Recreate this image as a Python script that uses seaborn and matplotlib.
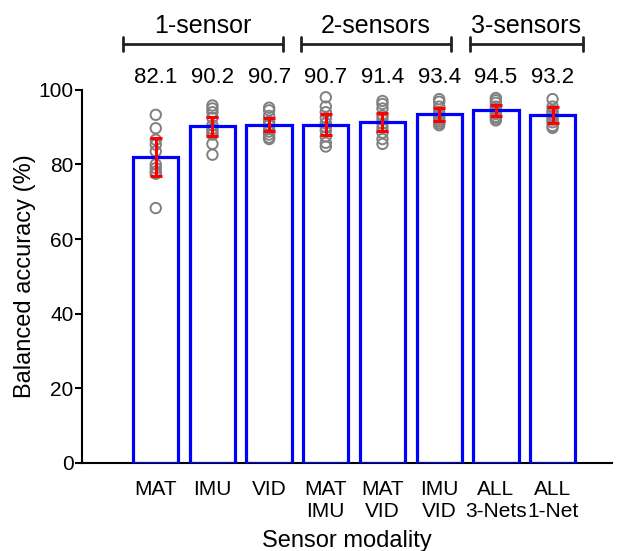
"""Balanced accuracy per sensor modality: bars, per-subject points and error bars."""

import matplotlib

matplotlib.use("Agg")
import matplotlib.pyplot as plt
import numpy as np
import pandas as pd
import seaborn as sns

modalities = ["MAT", "IMU", "VID", "MAT\nIMU", "MAT\nVID", "IMU\nVID", "ALL\n3-Nets", "ALL\n1-Net"]
mean_accuracy = [82.1, 90.2, 90.7, 90.7, 91.4, 93.4, 94.5, 93.2]
error_halfwidth = [5.1, 2.5, 1.8, 2.7, 2.5, 1.7, 1.5, 2.1]
subject_accuracy = [
    [93.3, 89.7, 86.6, 85.3, 83.5, 80.0, 79.0, 78.1, 77.5, 68.3],
    [95.8, 95.0, 94.0, 92.5, 90.5, 89.5, 88.8, 88.0, 85.5, 82.6],
    [95.2, 94.5, 93.0, 91.5, 90.5, 89.5, 88.8, 88.0, 87.2, 86.8],
    [98.0, 95.5, 94.0, 92.5, 91.0, 90.0, 89.0, 87.5, 85.8, 84.8],
    [97.0, 96.2, 95.0, 93.0, 92.0, 91.0, 89.8, 88.5, 86.8, 85.5],
    [97.5, 96.8, 95.5, 94.0, 93.0, 92.5, 92.0, 91.5, 91.0, 90.5],
    [97.8, 97.2, 96.5, 95.5, 94.8, 94.0, 93.5, 92.8, 92.3, 91.8],
    [97.5, 95.5, 94.5, 93.8, 93.2, 92.5, 92.0, 91.3, 90.3, 89.8],
]
group_names = ["1-sensor", "2-sensors", "3-sensors"]
group_spans = [(-0.58, 2.24), (2.56, 5.20), (5.55, 7.53)]

sns.set_style("white")
plt.rcParams["font.family"] = ["Liberation Sans", "DejaVu Sans"]
plt.rcParams.update({
    "text.color": "black", "axes.labelcolor": "black",
    "xtick.color": "black", "ytick.color": "black",
})

bars = pd.DataFrame({"modality": modalities, "accuracy": mean_accuracy})
points = pd.DataFrame(
    [(m, v) for m, vals in zip(modalities, subject_accuracy) for v in vals],
    columns=["modality", "accuracy"],
)

fig = plt.figure(figsize=(6.17, 5.51), dpi=100)
ax = fig.add_axes([0.133, 0.16, 0.859, 0.677])

sns.barplot(
    data=bars, x="modality", y="accuracy", order=modalities, errorbar=None,
    fill=False, color="#0000ff", linewidth=2.3, width=0.8, ax=ax,
)
for patch in ax.patches:
    patch.set_zorder(3.5)

sns.stripplot(
    data=points, x="modality", y="accuracy", order=modalities, jitter=False,
    color="#808080", size=7.5, linewidth=1.4, edgecolor="#808080", ax=ax, zorder=3,
)
for coll in ax.collections:
    coll.set_facecolor("none")

positions = np.arange(len(modalities))
ax.errorbar(
    positions, mean_accuracy, yerr=error_halfwidth, fmt="none", ecolor="red",
    elinewidth=2.2, capsize=4.5, capthick=2.2, zorder=4,
)

# value labels and group brackets above the axes
for x, v in zip(positions, mean_accuracy):
    ax.text(x, 103.3, f"{v:.1f}", ha="center", va="center", fontsize=16, clip_on=False)
for name, (x0, x1) in zip(group_names, group_spans):
    ax.plot([x0, x1], [112.3, 112.3], color="#222222", lw=2, clip_on=False)
    ax.plot([x0, x0], [110.4, 114.2], color="#222222", lw=2, clip_on=False)
    ax.plot([x1, x1], [110.4, 114.2], color="#222222", lw=2, clip_on=False)
    ax.text((x0 + x1) / 2, 117.2, name, ha="center", va="center", fontsize=18, clip_on=False)

ax.set_xlim(-1.3, 8.05)
ax.set_ylim(0, 100)
ax.set_yticks([0, 20, 40, 60, 80, 100])
ax.set_xlabel("Sensor modality", fontsize=17, labelpad=7)
ax.set_ylabel("Balanced accuracy (%)", fontsize=17, labelpad=2)
ax.tick_params(axis="y", left=True, direction="out", length=5, width=1.5, labelsize=15, pad=1)
ax.tick_params(axis="x", length=0, labelsize=15, pad=12)
for lbl in ax.get_xticklabels():
    lbl.set_linespacing(1.2)
for side in ["top", "right"]:
    ax.spines[side].set_visible(False)
for side in ["left", "bottom"]:
    ax.spines[side].set_linewidth(1.5)
    ax.spines[side].set_color("black")

fig.savefig("out.png", dpi=100)
